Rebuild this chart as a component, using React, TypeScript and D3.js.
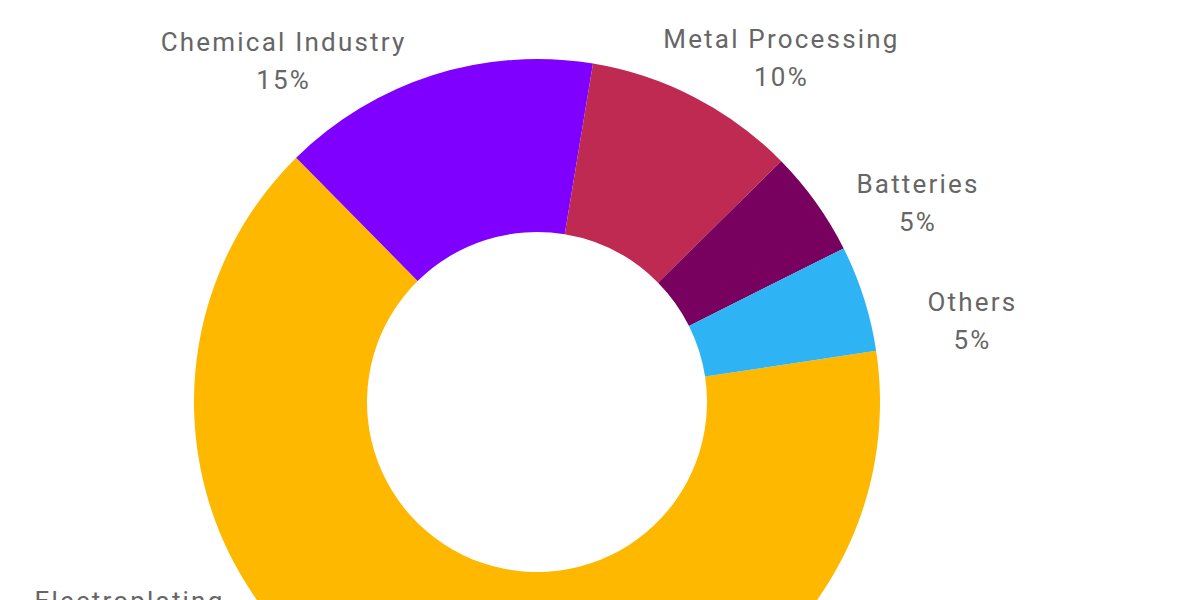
import React from "react";
import * as d3 from "d3";

const categories = ["Electroplating", "Chemical Industry", "Metal Processing", "Batteries", "Others"];
const shares = [65, 15, 10, 5, 5];
const colors = ["#FFB800", "#7F00FF", "#BF2A52", "#78005E", "#2EB3F5"];
// angular nudge (degrees) of each label from its slice's mid-angle
const labelNudge = [43.5, -19, 8, 8, 7];
const labelRadius = [462, 425, 422, 430, 443];

const W = 1200;
const H = 600;
const cx = 537;
const cy = 402;
const outerR = 343;
const innerR = 170;

export default function App() {
  const start = (81.4 * Math.PI) / 180;
  const pie = d3
    .pie<number>()
    .sort(null)
    .value((d) => d)
    .startAngle(start)
    .endAngle(start + 2 * Math.PI);
  const arcs = pie(shares);
  const arcGen = d3.arc<d3.PieArcDatum<number>>().innerRadius(innerR).outerRadius(outerR);

  return (
    <div style={{ position: "absolute", left: 0, top: 0 }}>
      <svg width={W} height={H} style={{ display: "block", background: "#fff" }}>
        <g transform={`translate(${cx},${cy})`}>
          {arcs.map((a, i) => (
            <path key={i} d={arcGen(a) || ""} fill={colors[i]} />
          ))}
          {arcs.map((a, i) => {
            const mid = (a.startAngle + a.endAngle) / 2 + (labelNudge[i] * Math.PI) / 180;
            const r = labelRadius[i];
            const x = r * Math.sin(mid);
            const y = -r * Math.cos(mid);
            return (
              <text
                key={"l" + i}
                x={x}
                y={y}
                textAnchor="middle"
                fontFamily="Roboto, 'Noto Sans', sans-serif"
                fontSize={26}
                letterSpacing={2.2}
                fill="#666"
              >
                <tspan x={x} dy={-10}>{categories[i]}</tspan>
                <tspan x={x} dy={38}>{d3.format(".0%")(shares[i] / 100)}</tspan>
              </text>
            );
          })}
        </g>
      </svg>
    </div>
  );
}
